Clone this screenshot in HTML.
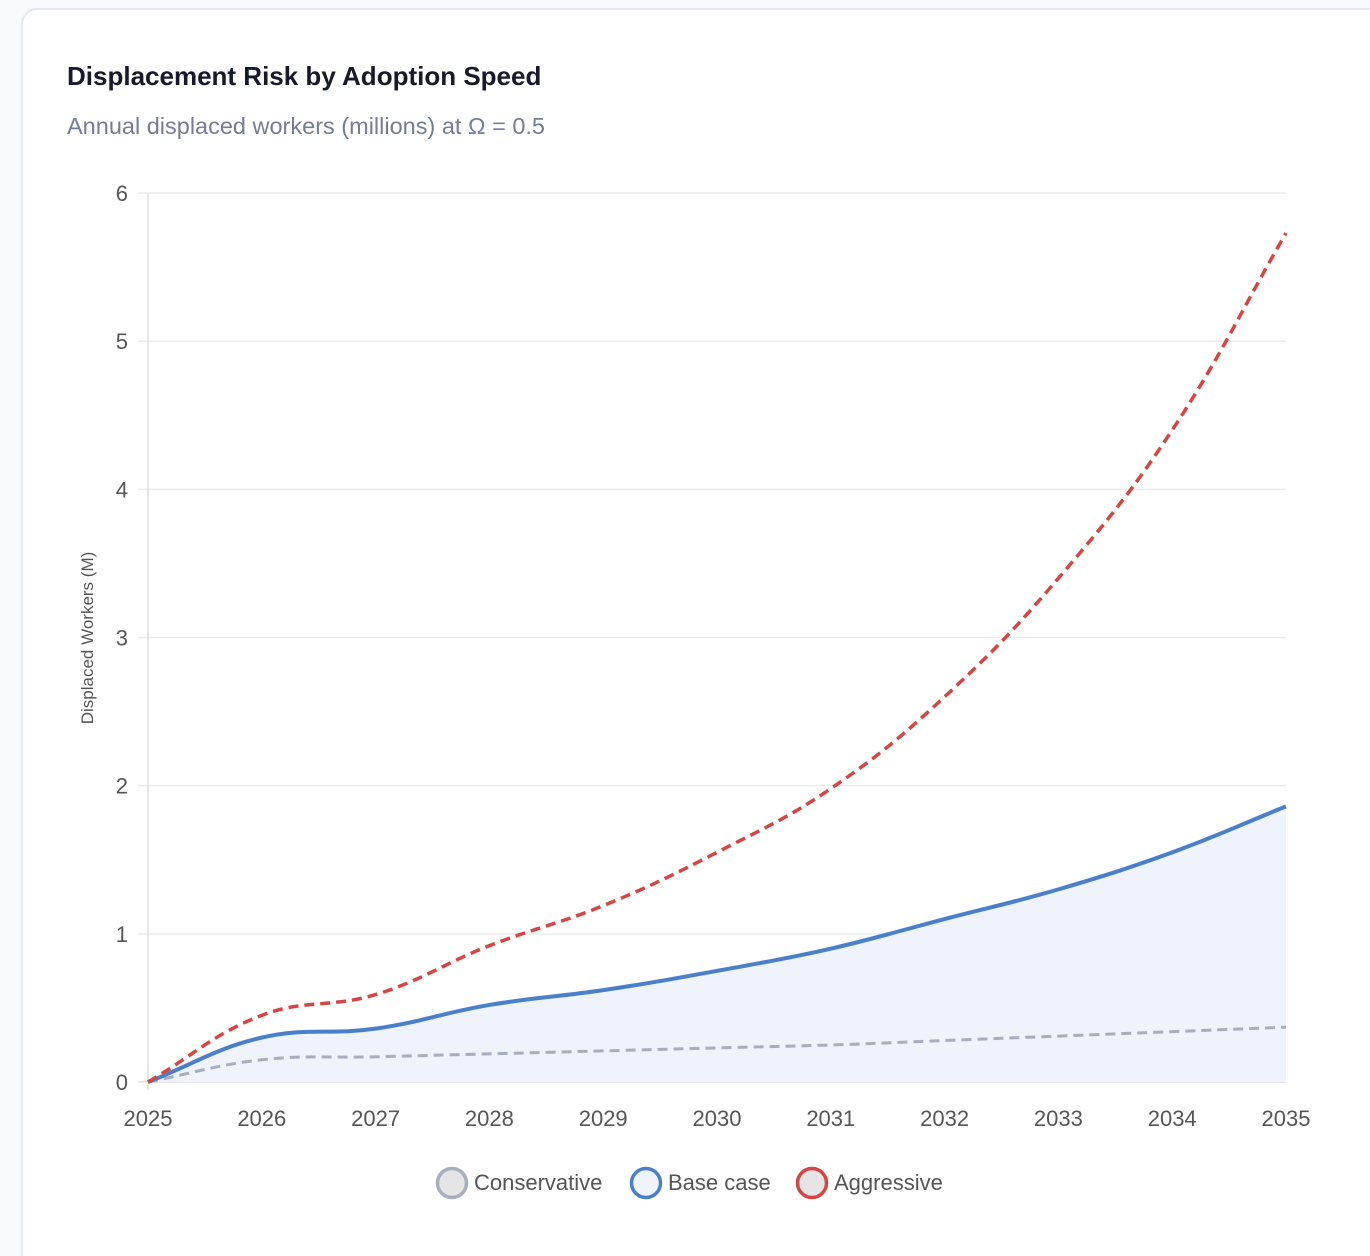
<!DOCTYPE html>
<html><head><meta charset="utf-8"><style>
html,body{margin:0;width:1370px;height:1256px;overflow:hidden}
body{background:#f8f9fb;font-family:"Liberation Sans",Arial,sans-serif;position:relative}
.card{position:absolute;left:21px;top:8px;width:1380px;height:1270px;background:#fff;border:2px solid #e4e7f0;border-radius:16px;box-sizing:border-box}
h1{position:absolute;left:67px;top:61px;margin:0;font-size:26px;font-weight:bold;color:#161a2b}
.sub{position:absolute;left:67px;top:113px;font-size:23.5px;color:#737d94}
svg{position:absolute;left:0;top:0}
</style></head><body>
<div class="card"></div>
<h1>Displacement Risk by Adoption Speed</h1>
<div class="sub">Annual displaced workers (millions) at Ω = 0.5</div>
<svg id="chart" width="1370" height="1256"></svg>
<script>
const years=[2025,2026,2027,2028,2029,2030,2031,2032,2033,2034,2035];
const conservative=[0,0.15,0.17,0.19,0.21,0.23,0.25,0.28,0.31,0.34,0.37];
const baseCase=[0,0.3,0.36,0.52,0.62,0.75,0.9,1.1,1.3,1.55,1.86];
const aggressive=[0,0.45,0.59,0.92,1.19,1.55,1.98,2.6,3.4,4.4,5.73];
const yTicks=[0,1,2,3,4,5,6];
const legendLabels=["Conservative","Base case","Aggressive"];

const NS="http://www.w3.org/2000/svg",svg=document.getElementById('chart');
const X0=148,X1=1286,Y0=1082,Y1=193;
const xs=i=>X0+(X1-X0)*i/(years.length-1);
const ys=v=>Y0-(Y0-Y1)*v/6;
function el(t,a,p){const e=document.createElementNS(NS,t);for(const k in a)e.setAttribute(k,a[k]);(p||svg).appendChild(e);return e;}
yTicks.forEach(t=>{
  const g=el('line',{x1:138,x2:X1,y1:ys(t),y2:ys(t),stroke:t===0?'#ddd':'#ececec','stroke-width':1.5});
  
  
  const l=el('text',{x:128,y:ys(t)+8,'text-anchor':'end','font-size':22,fill:'#555'});l.textContent=t;
  
  
});
el('line',{x1:X0,x2:X0,y1:Y1,y2:Y0+8,stroke:'#ddd','stroke-width':1.5});
years.forEach((y,i)=>{
  const l=el('text',{x:xs(i),y:1126,'text-anchor':'middle','font-size':22,fill:'#555'});l.textContent=y;
  
  
});
const yt=el('text',{transform:'translate(93,638) rotate(-90)','text-anchor':'middle','font-size':17,fill:'#555'});yt.textContent='Displaced Workers (M)';


function path(vals){
  const p=vals.map((v,i)=>[xs(i),ys(v)]);const t=0.4;let d='M'+p[0][0]+','+p[0][1];
  const cps=p.map((c,i)=>{const pr=p[i-1]||c,nx=p[i+1]||c;
    const d01=Math.hypot(c[0]-pr[0],c[1]-pr[1]),d12=Math.hypot(nx[0]-c[0],nx[1]-c[1]);
    let fa=d01/(d01+d12)||0,fb=d12/(d01+d12)||0;fa*=t;fb*=t;
    return[[c[0]-fa*(nx[0]-pr[0]),c[1]-fa*(nx[1]-pr[1])],[c[0]+fb*(nx[0]-pr[0]),c[1]+fb*(nx[1]-pr[1])]];});
  for(let i=1;i<p.length;i++){d+=`C${cps[i-1][1][0]},${Math.min(cps[i-1][1][1],Y0)} ${cps[i][0][0]},${Math.min(cps[i][0][1],Y0)} ${p[i][0]},${p[i][1]}`;}
  return d;
}
const bp=path(baseCase);
const area=el('path',{d:bp+`L${X1},${Y0}L${X0},${Y0}Z`,fill:'#eff3fb'});


const c=el('path',{d:path(conservative),fill:'none',stroke:'#a7aebf','stroke-width':3,'stroke-dasharray':'10 6'});


const b=el('path',{d:bp,fill:'none',stroke:'#4a7fcb','stroke-width':4});


const a=el('path',{d:path(aggressive),fill:'none',stroke:'#d64541','stroke-width':3.5,'stroke-dasharray':'10 6'});


const lx=[452,646,812],ls=['#a7aebf','#4a7fcb','#d64541'],lf=['#e5e5e5','#eff3fb','#e5e5e5'];
legendLabels.forEach((t,i)=>{
  const g=el('g',{});
  
  
  el('circle',{cx:lx[i],cy:1183,r:14.5,fill:lf[i],stroke:ls[i],'stroke-width':3.5},g);
  const tx=el('text',{x:lx[i]+22,y:1190,'font-size':22,fill:'#555'},g);tx.textContent=t;
});
</script>
</body></html>
